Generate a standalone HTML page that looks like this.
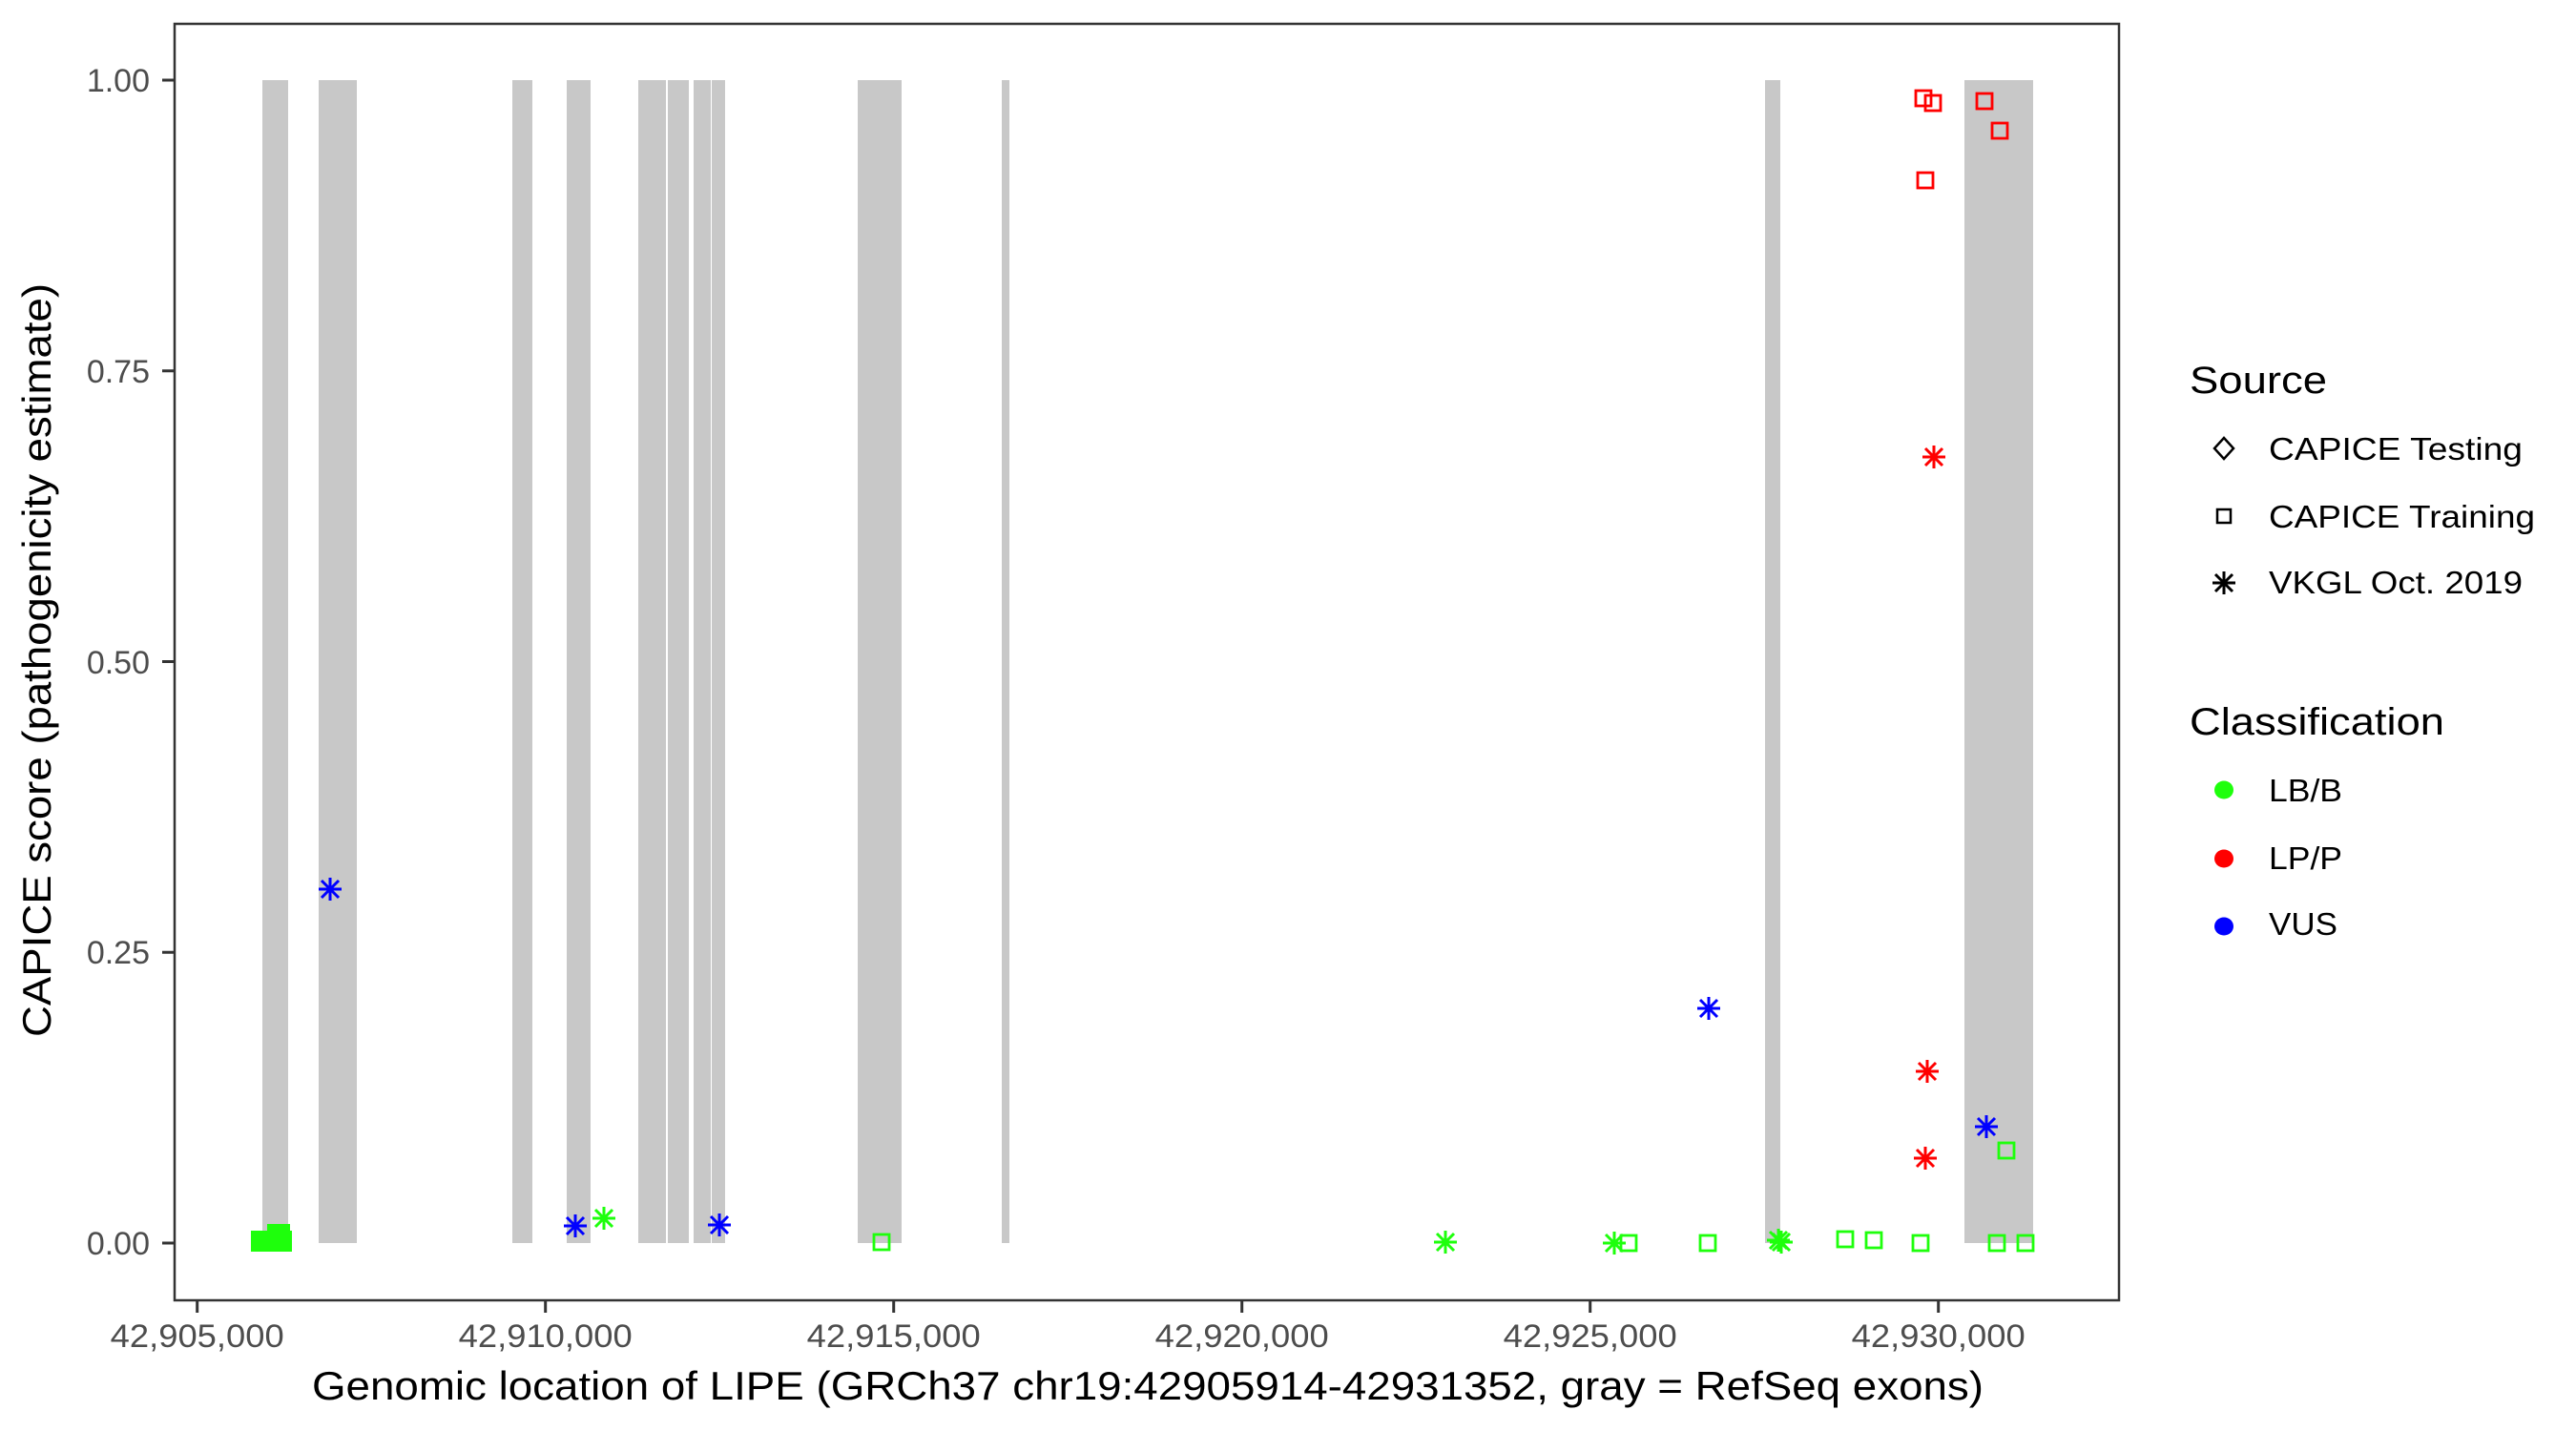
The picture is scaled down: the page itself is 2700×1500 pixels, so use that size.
<!DOCTYPE html>
<html><head><meta charset="utf-8"><style>
html,body{margin:0;padding:0;background:#fff;}
svg{display:block;font-family:"Liberation Sans",Arial,sans-serif;}
</style></head><body>
<svg width="2700" height="1500" viewBox="0 0 2700 1500" xmlns="http://www.w3.org/2000/svg">
<defs>
<g id="st"><path d="M-12,0H12M0,-12V12M-9,-9L9,9M-9,9L9,-9" stroke-width="3" fill="none"/></g>
<rect id="sq" x="-8" y="-8" width="16" height="16" fill="none" stroke-width="2.8"/>
</defs>
<rect width="2700" height="1500" fill="#fff"/>
<g fill="#c8c8c8">
<rect x="275" y="84" width="27" height="1219"/>
<rect x="334" y="84" width="40" height="1219"/>
<rect x="537" y="84" width="21" height="1219"/>
<rect x="594" y="84" width="25" height="1219"/>
<rect x="669" y="84" width="29" height="1219"/>
<rect x="700" y="84" width="22" height="1219"/>
<rect x="727" y="84" width="18" height="1219"/>
<rect x="746" y="84" width="14" height="1219"/>
<rect x="899" y="84" width="46" height="1219"/>
<rect x="1050" y="84" width="8" height="1219"/>
<rect x="1850" y="84" width="16" height="1219"/>
<rect x="2059" y="84" width="72" height="1219"/>
</g>
<g stroke="#1eff0c" fill="none">
<path d="M263,1290H280V1283H304V1290H306V1312H263Z" fill="#1eff0c" stroke="none"/>
<use href="#st" x="633" y="1277"/>
<use href="#sq" x="924" y="1302"/>
<use href="#st" x="1515" y="1302"/>
<use href="#st" x="1692" y="1303"/>
<use href="#sq" x="1707" y="1303"/>
<use href="#sq" x="1790" y="1303"/>
<use href="#st" x="1864" y="1300"/>
<use href="#st" x="1867" y="1302"/>
<use href="#sq" x="1934" y="1299"/>
<use href="#sq" x="1964" y="1300"/>
<use href="#sq" x="2013" y="1303"/>
<use href="#sq" x="2093" y="1303"/>
<use href="#sq" x="2123" y="1303"/>
<use href="#sq" x="2103" y="1206"/>
</g>
<g stroke="#0000ff" fill="none">
<use href="#st" x="346" y="932"/>
<use href="#st" x="603" y="1285"/>
<use href="#st" x="754" y="1284"/>
<use href="#st" x="1791" y="1057"/>
<use href="#st" x="2082" y="1181"/>
</g>
<g stroke="#ff0000" fill="none">
<use href="#sq" x="2016" y="103"/>
<use href="#sq" x="2026" y="108"/>
<use href="#sq" x="2018" y="189"/>
<use href="#sq" x="2080" y="106"/>
<use href="#sq" x="2096" y="137"/>
<use href="#st" x="2027" y="479"/>
<use href="#st" x="2020" y="1123"/>
<use href="#st" x="2018" y="1214"/>
</g>
<rect x="183" y="25" width="2038" height="1338" fill="none" stroke="#333" stroke-width="2.5"/>
<g stroke="#333" stroke-width="3">
<path d="M170,84H182M170,388.75H182M170,693.5H182M170,998.25H182M170,1303H182"/>
<path d="M206.7,1364V1376M571.7,1364V1376M936.7,1364V1376M1301.7,1364V1376M1666.7,1364V1376M2031.7,1364V1376"/>
</g>
<g fill="#4d4d4d" font-size="34" text-anchor="end">
<text x="157" y="96">1.00</text>
<text x="157" y="401">0.75</text>
<text x="157" y="706">0.50</text>
<text x="157" y="1010">0.25</text>
<text x="157" y="1315">0.00</text>
</g>
<g fill="#4d4d4d" font-size="34" text-anchor="middle">
<text x="206.7" y="1412" textLength="182" lengthAdjust="spacingAndGlyphs">42,905,000</text>
<text x="571.7" y="1412" textLength="182" lengthAdjust="spacingAndGlyphs">42,910,000</text>
<text x="936.7" y="1412" textLength="182" lengthAdjust="spacingAndGlyphs">42,915,000</text>
<text x="1301.7" y="1412" textLength="182" lengthAdjust="spacingAndGlyphs">42,920,000</text>
<text x="1666.7" y="1412" textLength="182" lengthAdjust="spacingAndGlyphs">42,925,000</text>
<text x="2031.7" y="1412" textLength="182" lengthAdjust="spacingAndGlyphs">42,930,000</text>
</g>
<text x="327" y="1467" font-size="42" fill="#000" textLength="1752" lengthAdjust="spacingAndGlyphs">Genomic location of LIPE (GRCh37 chr19:42905914-42931352, gray = RefSeq exons)</text>
<text transform="translate(53,1087) rotate(-90)" font-size="42" fill="#000" textLength="790" lengthAdjust="spacingAndGlyphs">CAPICE score (pathogenicity estimate)</text>
<text x="2295" y="412" font-size="40" textLength="144" lengthAdjust="spacingAndGlyphs">Source</text>
<g font-size="33">
<text x="2378" y="482" textLength="266" lengthAdjust="spacingAndGlyphs">CAPICE Testing</text>
<text x="2378" y="553" textLength="279" lengthAdjust="spacingAndGlyphs">CAPICE Training</text>
<text x="2378" y="622" textLength="266" lengthAdjust="spacingAndGlyphs">VKGL Oct. 2019</text>
</g>
<path d="M2331,459L2341,470L2331,481L2321,470Z" fill="none" stroke="#000" stroke-width="2.5"/>
<rect x="2324" y="534" width="14" height="14" fill="none" stroke="#000" stroke-width="2.5"/>
<use href="#st" x="2331" y="611" stroke="#000"/>
<text x="2295" y="770" font-size="40" textLength="267" lengthAdjust="spacingAndGlyphs">Classification</text>
<g font-size="33">
<text x="2378" y="840" textLength="77" lengthAdjust="spacingAndGlyphs">LB/B</text>
<text x="2378" y="911" textLength="77" lengthAdjust="spacingAndGlyphs">LP/P</text>
<text x="2378" y="980" textLength="72" lengthAdjust="spacingAndGlyphs">VUS</text>
</g>
<ellipse cx="2331" cy="828" rx="10" ry="9.5" fill="#1eff0c"/>
<ellipse cx="2331" cy="900" rx="10" ry="9.5" fill="#ff0000"/>
<ellipse cx="2331" cy="971" rx="10" ry="9.5" fill="#0000ff"/>
</svg>
</body></html>
